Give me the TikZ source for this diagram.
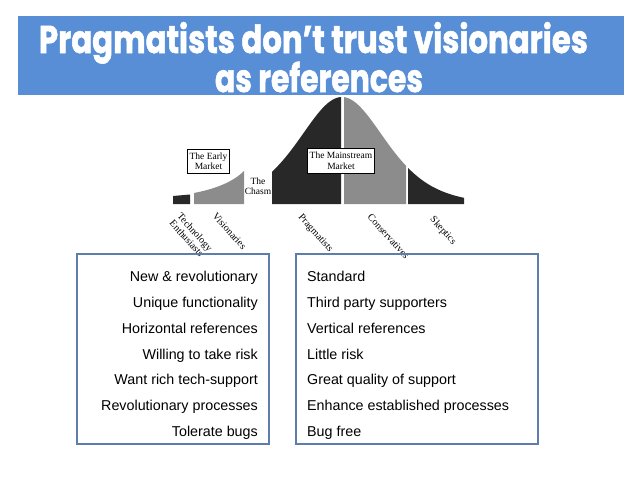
\documentclass[tikz,border=0pt]{standalone}
\usepackage{graphicx}
\usepackage{fontspec}
\setmainfont{Liberation Serif}
\newfontfamily\titlefont{Poppins}[BoldFeatures={FakeBold=1.6}]
\newfontfamily\bodyfont{Liberation Sans}
\definecolor{barblue}{RGB}{87,142,214}
\definecolor{boxblue}{RGB}{95,125,170}
\definecolor{darkseg}{RGB}{40,40,40}
\definecolor{grayseg}{RGB}{140,140,140}
\tikzset{
  declare function={bell(\x)=204-428/(exp((\x-342)/58)+exp(-(\x-342)/58))^2;},
  segdark/.style={fill=darkseg},
  seggray/.style={fill=grayseg},
  lab/.style={rotate=-48,inner sep=0,anchor=north west,font=\fontsize{10}{10.5}\selectfont,align=left},
  mbox/.style={draw=black,fill=white,line width=0.7,inner sep=2pt,align=center,font=\fontsize{9.5}{10.5}\selectfont},
  listbox/.style={draw=boxblue,line width=1.3},
  lefttxt/.style={anchor=base east,inner sep=0,font=\bodyfont\fontsize{14.3}{16}\selectfont},
  righttxt/.style={anchor=base west,inner sep=0,font=\bodyfont\fontsize{14.3}{16}\selectfont},
  ttl/.style={anchor=base,inner sep=0,text=white}
}
\begin{document}
\begin{tikzpicture}[x=1pt,y=-1pt]
\useasboundingbox (0,0) rectangle (638,479);
% title bar
\fill[barblue] (18,16) rectangle (624,95);
\node[ttl] (t1) at (313.5,53) {\resizebox{549pt}{\height}{\titlefont\bfseries\fontsize{38.7}{40}\selectfont Pragmatists don’t trust visionaries}};
\node[ttl] (t2) at (319,92) {\resizebox{208pt}{\height}{\titlefont\bfseries\fontsize{38.7}{40}\selectfont as references}};
% curve segments
\fill[segdark] (173,204) -- (173,196) -- (190,194.5) -- (190,204) -- cycle;
\fill[seggray] (194,204) -- (194,193) .. controls (215,189) and (233,182) .. (244,171) -- (244,204) -- cycle;
\fill[segdark] (272,204) -- plot[domain=272:341,samples=60] (\x,{bell(\x)}) -- (341,204) -- cycle;
\fill[seggray] (344,204) -- plot[domain=344:406,samples=60] (\x,{bell(\x)}) -- (406,204) -- cycle;
\fill[segdark] (408,204) -- plot[domain=408:464,samples=60] (\x,{bell(\x)}) -- (464,204) -- cycle;
% market boxes
\node[mbox,minimum width=41,minimum height=24] (early) at (208.5,161) {The Early\\Market};
\node[mbox,minimum width=64,minimum height=25] (main) at (341,160.5) {The Mainstream\\Market};
\node[inner sep=0,align=center,font=\fontsize{9.5}{10}\selectfont] (chasm) at (258,186) {The\\Chasm};
% rotated labels
\node[lab] (te) at (182,212) {Technology\\Enthusiasts};
\node[lab] (vi) at (217,212) {Visionaries};
\node[lab] (pr) at (303,213) {Pragmatists};
\node[lab] (co) at (372,213) {Conservatives};
\node[lab] (sk) at (435,215) {Skeptics};
% list boxes
\draw[listbox] (77,254) rectangle (269,444);
\draw[listbox] (296,254) rectangle (538,444);
\node[lefttxt] (l1) at (258,281.7) {New \& revolutionary};
\node[lefttxt] (l2) at (258,307.5) {Unique functionality};
\node[lefttxt] (l3) at (258,333.3) {Horizontal references};
\node[lefttxt] (l4) at (258,359.1) {Willing to take risk};
\node[lefttxt] (l5) at (258,384.9) {Want rich tech-support};
\node[lefttxt] (l6) at (258,410.7) {Revolutionary processes};
\node[lefttxt] (l7) at (258,436.5) {Tolerate bugs};
\node[righttxt] (r1) at (307,281.7) {Standard};
\node[righttxt] (r2) at (307,307.5) {Third party supporters};
\node[righttxt] (r3) at (307,333.3) {Vertical references};
\node[righttxt] (r4) at (307,359.1) {Little risk};
\node[righttxt] (r5) at (307,384.9) {Great quality of support};
\node[righttxt] (r6) at (307,410.7) {Enhance established processes};
\node[righttxt] (r7) at (307,436.5) {Bug free};
\end{tikzpicture}
\end{document}
